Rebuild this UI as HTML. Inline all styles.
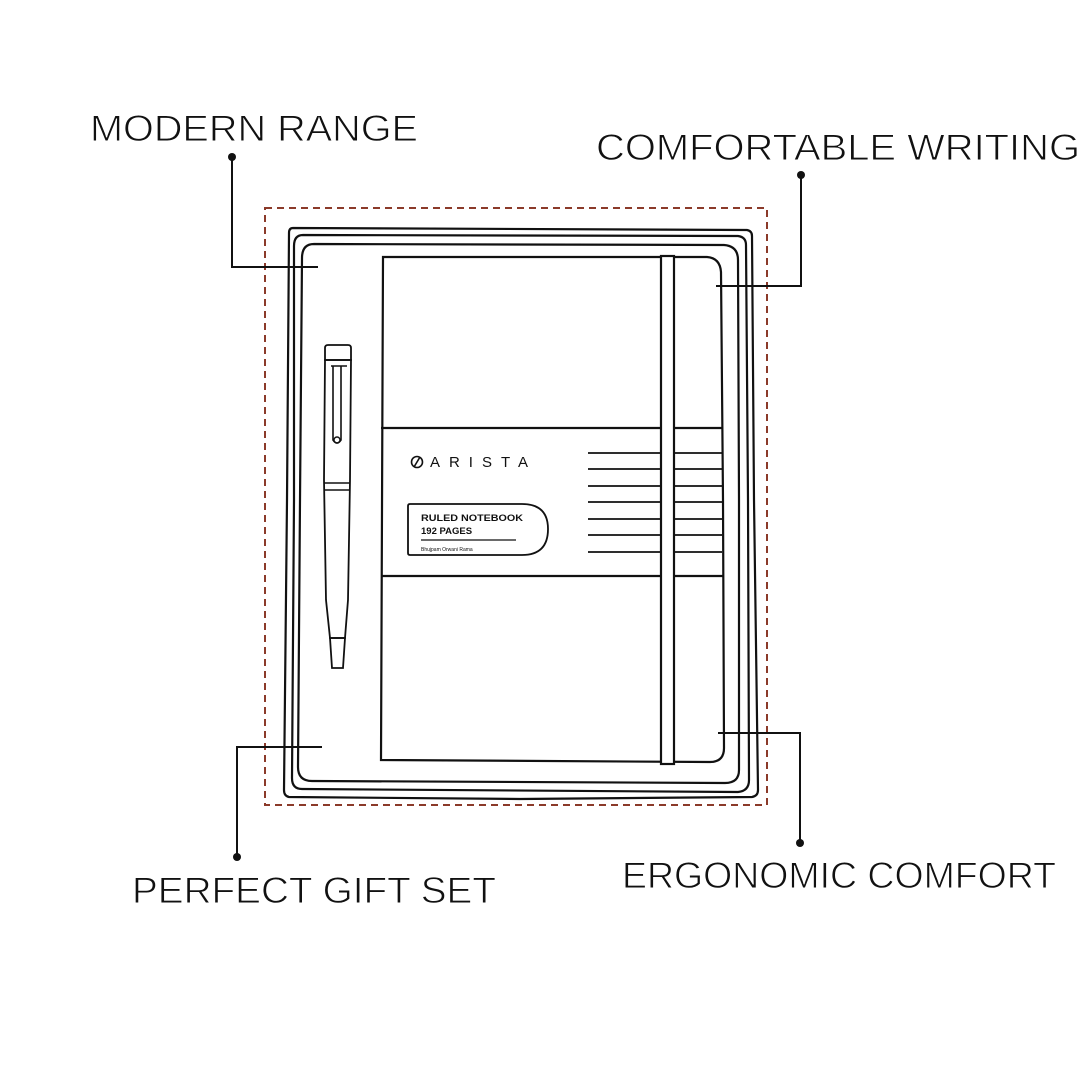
<!DOCTYPE html>
<html><head><meta charset="utf-8"><style>
html,body{margin:0;padding:0;background:#fff;width:1080px;height:1080px;overflow:hidden}
svg{display:block}
text{font-family:"Liberation Sans",sans-serif;fill:#111}
.lbl{stroke:#fff;stroke-width:0.9px;paint-order:normal}
</style></head><body>
<svg width="1080" height="1080" viewBox="0 0 1080 1080" xmlns="http://www.w3.org/2000/svg">
<g font-size="37">
<text class="lbl" x="90" y="141" textLength="328" lengthAdjust="spacingAndGlyphs">MODERN RANGE</text>
<text class="lbl" x="596" y="160" textLength="484" lengthAdjust="spacingAndGlyphs">COMFORTABLE WRITING</text>
<text class="lbl" x="622" y="888" textLength="434" lengthAdjust="spacingAndGlyphs">ERGONOMIC COMFORT</text>
<text class="lbl" x="132" y="903" textLength="364" lengthAdjust="spacingAndGlyphs">PERFECT GIFT SET</text>
</g>
<rect x="265" y="208" width="502" height="597" fill="none" stroke="#8b3a2a" stroke-width="2" stroke-dasharray="7,5"/>
<g fill="none" stroke="#111" stroke-width="2.2">
<path d="M293,228 L747,230 Q752,231 752,236 L754,500 L758,790 Q758,796 752,797 L520,799 L289,797 Q284,796 284,790 L287,500 L289,233 Q289,228 293,228 Z"/>
<path d="M303,235 L738,236 Q746,237 746,245 L748,500 L749,780 Q749,791 738,792 L302,789 Q292,789 292,778 L294,500 L294,246 Q294,235 303,235 Z"/>
<path d="M314,244 L724,245 Q738,246 738,260 L739,500 L739,770 Q739,783 725,783 L312,781 Q298,781 298,767 L300,500 L302,258 Q302,244 314,244 Z"/>
<path d="M383,257 L707,257 Q720,258 721,272 L723,500 L724,748 Q724,762 710,762 L381,760 Z"/>
<line x1="381" y1="428" x2="722" y2="428"/>
<line x1="381" y1="576" x2="723" y2="576"/>
<g stroke-width="1.8">
<line x1="588" y1="453" x2="722" y2="453"/>
<line x1="588" y1="469" x2="722" y2="469"/>
<line x1="588" y1="486" x2="722" y2="486"/>
<line x1="588" y1="502" x2="722" y2="502"/>
<line x1="588" y1="519" x2="722" y2="519"/>
<line x1="588" y1="535" x2="722" y2="535"/>
<line x1="588" y1="552" x2="722" y2="552"/>
</g>
<rect x="661" y="256" width="13" height="508" fill="#fff"/>
<path d="M410,504 L522,504 Q548,504 548,529 Q548,555 522,555 L410,555 Q408,555 408,553 L408,506 Q408,504 410,504 Z" stroke-width="1.8"/>
<line x1="421" y1="540" x2="516" y2="540" stroke-width="1.3"/>
<path d="M328,345 L348,345 Q351,345 351,348 L351,360 L325,360 L325,348 Q325,345 328,345 Z" stroke-width="1.8"/>
<path d="M325,360 L351,360 L350,480 L348,600 L345,638 L330,638 L326,600 L324,480 Z" stroke-width="1.8"/>
<path d="M330,638 L345,638 L343,668 L332,668 Z" stroke-width="1.8"/>
<path d="M331,366 L347,366 M333,366 L333,440 Q337,446 341,440 L341,366" stroke-width="1.6"/>
<circle cx="337" cy="440" r="3" stroke-width="1.4"/>
<line x1="324" y1="483" x2="350" y2="483" stroke-width="1.6"/>
<line x1="324" y1="490" x2="350" y2="490" stroke-width="1.6"/>
</g>
<g fill="none" stroke="#111" stroke-width="2">
<polyline points="232,157 232,267 318,267"/>
<polyline points="801,175 801,286 716,286"/>
<polyline points="800,843 800,733 718,733"/>
<polyline points="237,857 237,747 322,747"/>
</g>
<g fill="#111">
<circle cx="232" cy="157" r="4"/><circle cx="801" cy="175" r="4"/>
<circle cx="800" cy="843" r="4"/><circle cx="237" cy="857" r="4"/>
</g>
<circle cx="417" cy="462" r="5.5" fill="none" stroke="#111" stroke-width="1.6"/>
<line x1="414" y1="467" x2="420" y2="457" stroke="#111" stroke-width="1.6"/>
<text x="430" y="467" font-size="15" textLength="98" lengthAdjust="spacing">ARISTA</text>
<text x="421" y="521" font-size="9.5" font-weight="bold" textLength="102" lengthAdjust="spacingAndGlyphs">RULED NOTEBOOK</text>
<text x="421" y="534" font-size="9.5" font-weight="bold">192 PAGES</text>
<text x="421" y="551" font-size="5">Bhujpam Orwani Rama</text>
</svg>
</body></html>
